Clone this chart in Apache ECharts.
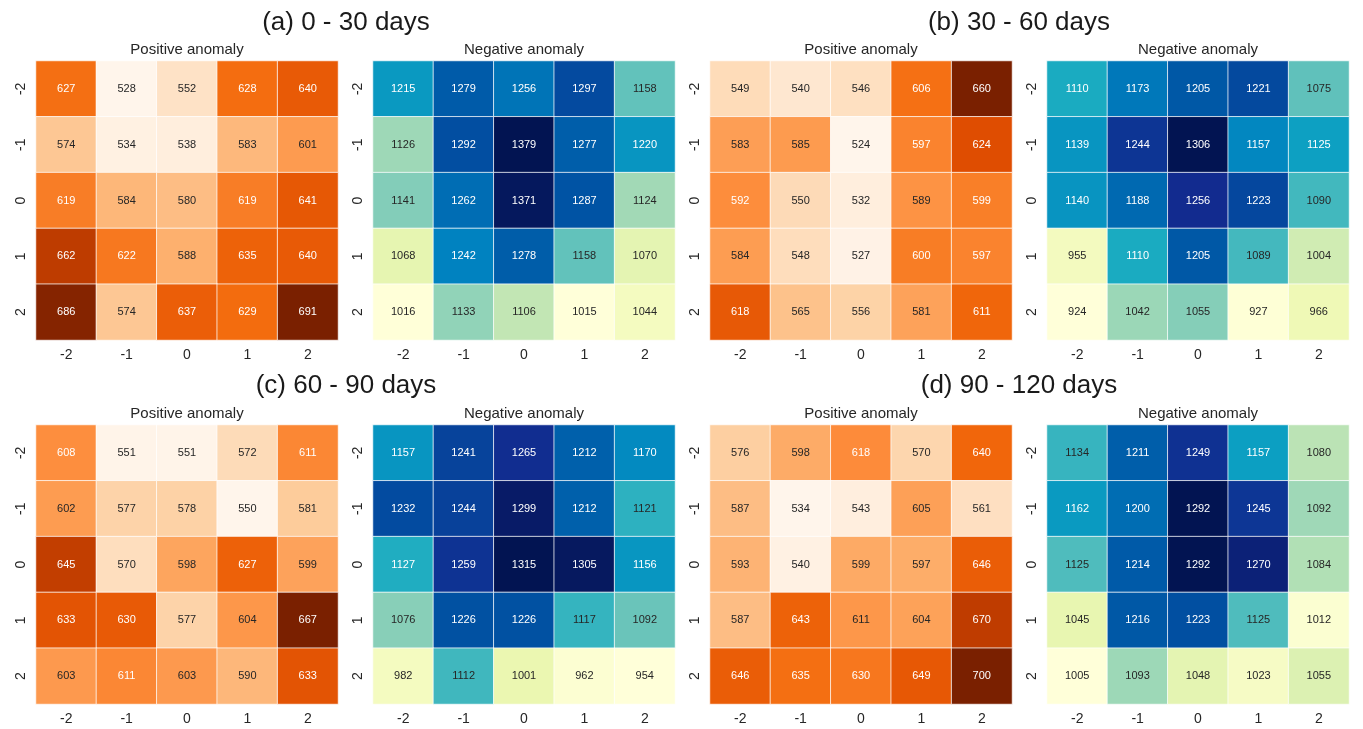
<!DOCTYPE html>
<html>
<head>
<meta charset="utf-8">
<script src="https://cdn.jsdelivr.net/npm/echarts@6.0.0/dist/echarts.min.js"></script>
<style>
  html, body { margin: 0; padding: 0; background: #fff; }
  #main { width: 1363px; height: 729px; }
</style>
</head>
<body>
<div id="main"></div>
<script>
// tick labels (x: columns, y: rows top -> bottom)
const ticks = ['-2', '-1', '0', '1', '2'];

// each array: rows top -> bottom (y = -2 .. 2), columns x = -2 .. 2
const posA = [[627, 528, 552, 628, 640], [574, 534, 538, 583, 601], [619, 584, 580, 619, 641], [662, 622, 588, 635, 640], [686, 574, 637, 629, 691]];
const negA = [[1215, 1279, 1256, 1297, 1158], [1126, 1292, 1379, 1277, 1220], [1141, 1262, 1371, 1287, 1124], [1068, 1242, 1278, 1158, 1070], [1016, 1133, 1106, 1015, 1044]];
const posB = [[549, 540, 546, 606, 660], [583, 585, 524, 597, 624], [592, 550, 532, 589, 599], [584, 548, 527, 600, 597], [618, 565, 556, 581, 611]];
const negB = [[1110, 1173, 1205, 1221, 1075], [1139, 1244, 1306, 1157, 1125], [1140, 1188, 1256, 1223, 1090], [955, 1110, 1205, 1089, 1004], [924, 1042, 1055, 927, 966]];
const posC = [[608, 551, 551, 572, 611], [602, 577, 578, 550, 581], [645, 570, 598, 627, 599], [633, 630, 577, 604, 667], [603, 611, 603, 590, 633]];
const negC = [[1157, 1241, 1265, 1212, 1170], [1232, 1244, 1299, 1212, 1121], [1127, 1259, 1315, 1305, 1156], [1076, 1226, 1226, 1117, 1092], [982, 1112, 1001, 962, 954]];
const posD = [[576, 598, 618, 570, 640], [587, 534, 543, 605, 561], [593, 540, 599, 597, 646], [587, 643, 611, 604, 670], [646, 635, 630, 649, 700]];
const negD = [[1134, 1211, 1249, 1157, 1080], [1162, 1200, 1292, 1245, 1092], [1125, 1214, 1292, 1270, 1084], [1045, 1216, 1223, 1125, 1012], [1005, 1093, 1048, 1023, 1055]];

const panelTitles = ['(a) 0 - 30 days', '(b) 30 - 60 days', '(c) 60 - 90 days', '(d) 90 - 120 days'];

// fill colormaps (Oranges / YlGnBu, a bit more saturated like the picture)
const oranges = ['#fff5eb', '#fee6ce', '#fdd0a2', '#fdae6b', '#fd8d3c', '#f36a0c', '#dc4900', '#a83200', '#7a2000'];
const ylgnbu = ['#ffffd9', '#edf8b1', '#c2e6b4', '#70c6ba', '#10a8c2', '#0082c0', '#0052a3', '#13298e', '#021452'];
// plain matplotlib maps, only used to choose black / white annotation text
const orangesRef = ['#fff5eb', '#fee6ce', '#fdd0a2', '#fdae6b', '#fd8d3c', '#f16913', '#d94801', '#a63603', '#7f2704'];
const ylgnbuRef = ['#ffffd9', '#edf8b1', '#c7e9b4', '#7fcdbb', '#41b6c4', '#1d91c0', '#225ea8', '#253494', '#081d58'];

const FONT = '"Liberation Sans", Arial, sans-serif';

function hexRgb(h) {
    return [parseInt(h.slice(1, 3), 16), parseInt(h.slice(3, 5), 16), parseInt(h.slice(5, 7), 16)];
}
function colorAt(stops, t) {
    t = Math.max(0, Math.min(1, t));
    const p = t * (stops.length - 1);
    const i = Math.min(Math.floor(p), stops.length - 2);
    const f = p - i;
    const a = hexRgb(stops[i]), b = hexRgb(stops[i + 1]);
    return a.map((v, k) => v + (b[k] - v) * f);
}
function luminance(rgb) {
    const c = rgb.map(v => {
        v = v / 255;
        return v <= 0.03928 ? v / 12.92 : Math.pow((v + 0.055) / 1.055, 2.4);
    });
    return 0.2126 * c[0] + 0.7152 * c[1] + 0.0722 * c[2];
}

const mats = [posA, negA, posB, negB, posC, negC, posD, negD];
const lefts = [36, 373, 710, 1047];
const tops = [61, 425];

const grid = [], xAxis = [], yAxis = [], series = [], visualMap = [], graphic = [];

mats.forEach((m, i) => {
    const row = Math.floor(i / 4), col = i % 4;
    const isPos = col % 2 === 0;
    const cmap = isPos ? oranges : ylgnbu;
    const cmapRef = isPos ? orangesRef : ylgnbuRef;
    const flat = [].concat(...m);
    const mn = Math.min(...flat), mx = Math.max(...flat);

    grid.push({ left: lefts[col], top: tops[row], width: 302, height: 279 });
    xAxis.push({
        type: 'category', gridIndex: i, data: ticks,
        axisLine: { show: false }, axisTick: { show: false }, splitLine: { show: false },
        axisLabel: { fontSize: 14, color: '#262626', fontFamily: FONT, margin: 8 }
    });
    yAxis.push({
        type: 'category', gridIndex: i, data: ticks, inverse: true,
        axisLine: { show: false }, axisTick: { show: false }, splitLine: { show: false },
        axisLabel: { fontSize: 14, color: '#262626', fontFamily: FONT, rotate: 90, margin: 8 }
    });

    const data = [];
    m.forEach((r, y) => r.forEach((v, x) => {
        const lum = luminance(colorAt(cmapRef, (v - mn) / (mx - mn)));
        data.push({ value: [x, y, v], label: { color: lum > 0.408 ? '#262626' : '#ffffff' } });
    }));

    series.push({
        type: 'heatmap', xAxisIndex: i, yAxisIndex: i, data: data,
        itemStyle: { borderColor: 'rgba(255,255,255,0.75)', borderWidth: 1 },
        label: { show: true, fontSize: 11, fontFamily: FONT, formatter: p => p.value[2] },
        emphasis: { disabled: true }
    });
    visualMap.push({
        show: false, seriesIndex: i, dimension: 2, min: mn, max: mx,
        inRange: { color: cmap }
    });

    graphic.push({
        type: 'text', x: lefts[col] + 151, y: tops[row] - 11,
        style: {
            text: isPos ? 'Positive anomaly' : 'Negative anomaly',
            font: '15px ' + FONT, fill: '#262626', textAlign: 'center', textVerticalAlign: 'middle'
        }
    });
});

// panel titles
const titleX = [346, 1019];
const titleY = [23, 386];
panelTitles.forEach((t, k) => {
    graphic.push({
        type: 'text', x: titleX[k % 2], y: titleY[Math.floor(k / 2)],
        style: { text: t, font: '26px ' + FONT, fill: '#1a1a1a', textAlign: 'center', textVerticalAlign: 'middle' }
    });
});

const myChart = echarts.init(document.getElementById('main'));
myChart.setOption({
    animation: false,
    grid: grid,
    xAxis: xAxis,
    yAxis: yAxis,
    visualMap: visualMap,
    series: series,
    graphic: graphic
});
</script>
</body>
</html>
